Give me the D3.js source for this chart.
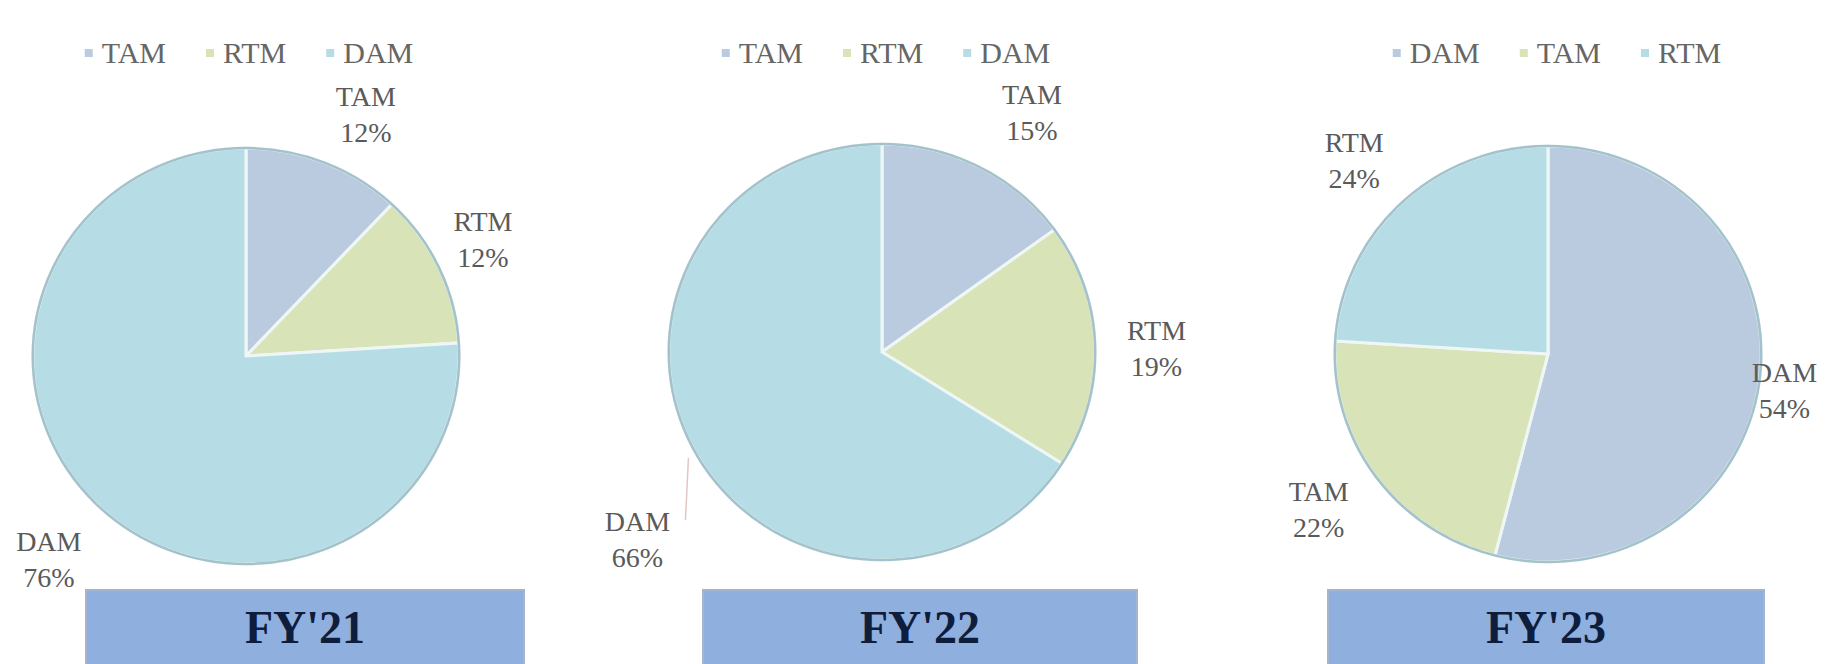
<!DOCTYPE html>
<html>
<head>
<meta charset="utf-8">
<script src="https://cdn.jsdelivr.net/npm/d3@7/dist/d3.min.js"></script>
<style>
  body { margin: 0; background: #fff; }
  svg { display: block; }
  .legend-text { font-family: 'Liberation Serif', 'Times New Roman', serif; font-size: 30px; fill: #666; }
  .label { font-family: 'Liberation Serif', 'Times New Roman', serif; font-size: 28px; fill: #5a5a5a; }
  .title { font-family: 'Liberation Serif', 'Times New Roman', serif; font-size: 46px; font-weight: bold; fill: #0f1d3d; }
</style>
</head>
<body>
<svg class="chart"></svg>
<script>
// Data
var years = ["FY'21", "FY'22", "FY'23"];
var categories21 = ['TAM', 'RTM', 'DAM'];
var categories22 = ['TAM', 'RTM', 'DAM'];
var categories23 = ['DAM', 'TAM', 'RTM'];
var shares21 = [12, 12, 76];
var shares22 = [15, 19, 66];
var shares23 = [54, 22, 24];

// Colours follow series order, as in the spreadsheet
var sliceColors = ['#bacbdf', '#d8e3b7', '#b6dce5'];

// Layout
var width = 1838;
var height = 664;
var radius = 208;
var pieCenters = [[246, 356], [882, 352], [1548, 354]];
var legendCenters = [249, 886, 1557];
var boxes = [[86, 524], [703, 1137], [1328, 1764]];
// label distance (x radius) and small angle nudge (degrees) per slice
var labelDist = [[1.3, 1.27, 1.36], [1.36, 1.32, 1.48], [1.15, 1.33, 1.32]];
var labelTurn = [[4.7, -1, 1], [5, 1, -8.6], [1.5, 2, -1.7]];

var panels = years.map(function (y, i) {
  return {
    year: y,
    names: [categories21, categories22, categories23][i],
    values: [shares21, shares22, shares23][i]
  };
});

var svg = d3.select('.chart')
  .attr('width', width)
  .attr('height', height);

var pie = d3.pie().sort(null).value(function (d) { return d.value; });
var arc = d3.arc().innerRadius(0).outerRadius(radius);

panels.forEach(function (p, i) {
  var data = p.names.map(function (n, j) { return {name: n, value: p.values[j], color: sliceColors[j]}; });
  var arcs = pie(data);
  var cx = pieCenters[i][0];
  var cy = pieCenters[i][1];

  var g = svg.append('g')
    .attr('transform', 'translate(' + cx + ',' + cy + ') scale(1.025,1)');

  g.selectAll('path.slice')
    .data(arcs)
    .enter()
    .append('path')
    .attr('class', 'slice')
    .attr('d', arc)
    .attr('fill', function (d) { return d.data.color; })
    .attr('stroke', '#eef7f5')
    .attr('stroke-width', 3);

  // outer rim
  g.append('circle')
    .attr('r', radius)
    .attr('fill', 'none')
    .attr('stroke', '#a3c2cc')
    .attr('stroke-width', 2.5);

  // Data labels outside the pie
  var labels = svg.append('g')
    .attr('transform', 'translate(' + cx + ',' + cy + ')');

  arcs.forEach(function (d, j) {
    var mid = (d.startAngle + d.endAngle) / 2 + labelTurn[i][j] * Math.PI / 180;
    var k = radius * labelDist[i][j];
    var lx = Math.sin(mid) * k;
    var ly = -Math.cos(mid) * k;
    var t = labels.append('text')
      .attr('class', 'label')
      .attr('text-anchor', 'middle')
      .attr('x', lx)
      .attr('y', ly - 8);
    t.append('tspan').attr('x', lx).text(d.data.name);
    t.append('tspan').attr('x', lx).attr('dy', 36).text(d.data.value + '%');

    // leader line when the label sits far out
    if (labelDist[i][j] > 1.4) {
      labels.append('line')
        .attr('x1', lx + 48)
        .attr('y1', ly - 19)
        .attr('x2', lx + 51)
        .attr('y2', ly - 81)
        .attr('stroke', '#e2c6c6')
        .attr('stroke-width', 1.5);
    }
  });

  // Legend on top
  var legend = svg.append('g');
  var x = 0;
  data.forEach(function (d) {
    var item = legend.append('g');
    item.append('rect')
      .attr('x', 0)
      .attr('y', -14)
      .attr('width', 8)
      .attr('height', 8)
      .attr('fill', d.color);
    var txt = item.append('text')
      .attr('class', 'legend-text')
      .attr('x', 17)
      .attr('y', 0)
      .text(d.name);
    var w = 17 + txt.node().getComputedTextLength();
    item.attr('transform', 'translate(' + x + ',0)');
    x += w + 40;
  });
  var total = x - 40;
  legend.attr('transform', 'translate(' + (legendCenters[i] - total / 2) + ',63)');

  // Year box below
  var bx = boxes[i];
  svg.append('rect')
    .attr('x', bx[0])
    .attr('y', 590)
    .attr('width', bx[1] - bx[0])
    .attr('height', 90)
    .attr('fill', '#8fb0df')
    .attr('stroke', '#a4b6cf')
    .attr('stroke-width', 2);

  svg.append('text')
    .attr('class', 'title')
    .attr('text-anchor', 'middle')
    .attr('x', (bx[0] + bx[1]) / 2)
    .attr('y', 643)
    .text(p.year);
});
</script>
</body>
</html>
